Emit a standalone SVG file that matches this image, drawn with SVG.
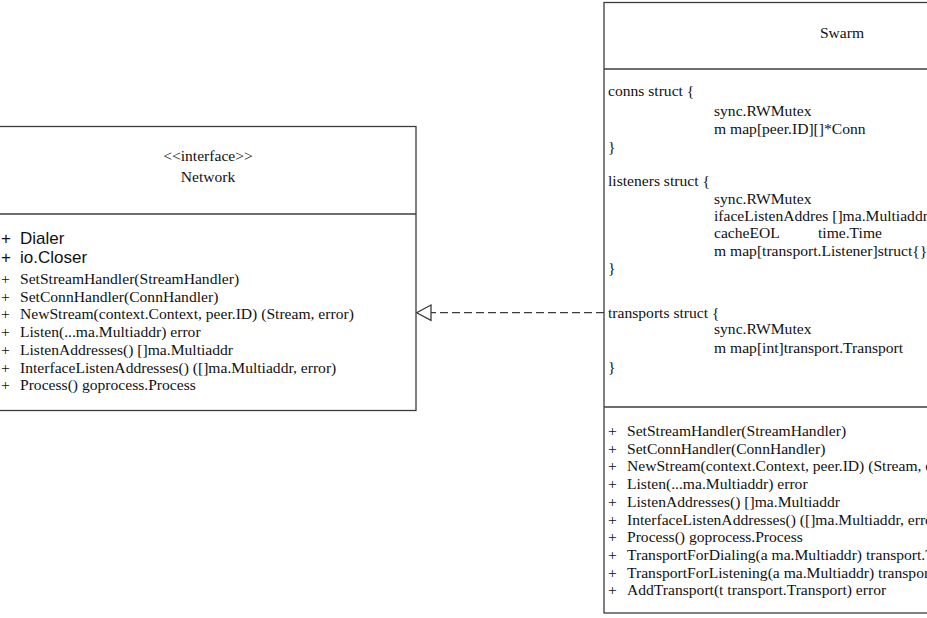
<svg xmlns="http://www.w3.org/2000/svg" width="927" height="618" viewBox="0 0 927 618">
<style>
.box{fill:#fff;stroke:#3c3c3c;stroke-width:1.3}
.div{stroke:#3c3c3c;stroke-width:1.3}
.t{font-family:"Liberation Serif","Times New Roman",serif;font-size:15.6px;fill:#111}
.s{font-family:"Liberation Sans",Arial,sans-serif;font-size:17px;fill:#111}
.c{text-anchor:middle}
.edge{fill:none;stroke:#3c3c3c;stroke-width:1.3;stroke-dasharray:8 4}
.head{fill:#fff;stroke:#3c3c3c;stroke-width:1.3}
</style>
<rect width="927" height="618" fill="#fff"/>
<g id="connectors">
<path class="edge" d="M604,312.7 L431,312.7"/>
<path class="head" d="M431,305 L416.7,312.7 L431,320.4 Z"/>
</g>
<g id="network">
<rect class="box" x="-2" y="126.5" width="418" height="284"/>
<line class="div" x1="-2" y1="214" x2="416" y2="214"/>
<text class="t c" x="208" y="161">&lt;&lt;interface&gt;&gt;</text>
<text class="t c" x="208" y="182">Network</text>
<text class="s" x="1" y="244">+</text><text class="s" x="20" y="244">Dialer</text>
<text class="s" x="1" y="263">+</text><text class="s" x="20" y="263">io.Closer</text>
<text class="t" x="1" y="284">+</text><text class="t" x="20" y="284">SetStreamHandler(StreamHandler)</text>
<text class="t" x="1" y="301.7">+</text><text class="t" x="20" y="301.7">SetConnHandler(ConnHandler)</text>
<text class="t" x="1" y="319.4">+</text><text class="t" x="20" y="319.4">NewStream(context.Context, peer.ID) (Stream, error)</text>
<text class="t" x="1" y="337.1">+</text><text class="t" x="20" y="337.1">Listen(...ma.Multiaddr) error</text>
<text class="t" x="1" y="354.8">+</text><text class="t" x="20" y="354.8">ListenAddresses() []ma.Multiaddr</text>
<text class="t" x="1" y="372.5">+</text><text class="t" x="20" y="372.5">InterfaceListenAddresses() ([]ma.Multiaddr, error)</text>
<text class="t" x="1" y="390.2">+</text><text class="t" x="20" y="390.2">Process() goprocess.Process</text>
</g>
<g id="swarm">
<rect class="box" x="604" y="2.5" width="476" height="610.5"/>
<line class="div" x1="604" y1="69" x2="1080" y2="69"/>
<line class="div" x1="604" y1="407" x2="1080" y2="407"/>
<text class="t c" x="842" y="38">Swarm</text>
<text class="t" x="608" y="96">conns struct {</text>
<text class="t" x="714" y="116">sync.RWMutex</text>
<text class="t" x="714" y="134">m map[peer.ID][]*Conn</text>
<text class="t" x="608" y="152">}</text>
<text class="t" x="608" y="186">listeners struct {</text>
<text class="t" x="714" y="204">sync.RWMutex</text>
<text class="t" x="714" y="221">ifaceListenAddres []ma.Multiaddr</text>
<text class="t" x="714" y="238">cacheEOL</text><text class="t" x="818" y="238">time.Time</text>
<text class="t" x="714" y="256">m map[transport.Listener]struct{}</text>
<text class="t" x="608" y="273">}</text>
<text class="t" x="608" y="318">transports struct {</text>
<text class="t" x="714" y="334">sync.RWMutex</text>
<text class="t" x="714" y="353">m map[int]transport.Transport</text>
<text class="t" x="608" y="372">}</text>
<text class="t" x="608" y="436">+</text><text class="t" x="627" y="436">SetStreamHandler(StreamHandler)</text>
<text class="t" x="608" y="453.7">+</text><text class="t" x="627" y="453.7">SetConnHandler(ConnHandler)</text>
<text class="t" x="608" y="471.4">+</text><text class="t" x="627" y="471.4">NewStream(context.Context, peer.ID) (Stream, error)</text>
<text class="t" x="608" y="489.1">+</text><text class="t" x="627" y="489.1">Listen(...ma.Multiaddr) error</text>
<text class="t" x="608" y="506.8">+</text><text class="t" x="627" y="506.8">ListenAddresses() []ma.Multiaddr</text>
<text class="t" x="608" y="524.5">+</text><text class="t" x="627" y="524.5">InterfaceListenAddresses() ([]ma.Multiaddr, error)</text>
<text class="t" x="608" y="542.2">+</text><text class="t" x="627" y="542.2">Process() goprocess.Process</text>
<text class="t" x="608" y="559.9">+</text><text class="t" x="627" y="559.9">TransportForDialing(a ma.Multiaddr) transport.Transport</text>
<text class="t" x="608" y="577.6">+</text><text class="t" x="627" y="577.6">TransportForListening(a ma.Multiaddr) transport.Transport</text>
<text class="t" x="608" y="595.3">+</text><text class="t" x="627" y="595.3">AddTransport(t transport.Transport) error</text>
</g>
</svg>
